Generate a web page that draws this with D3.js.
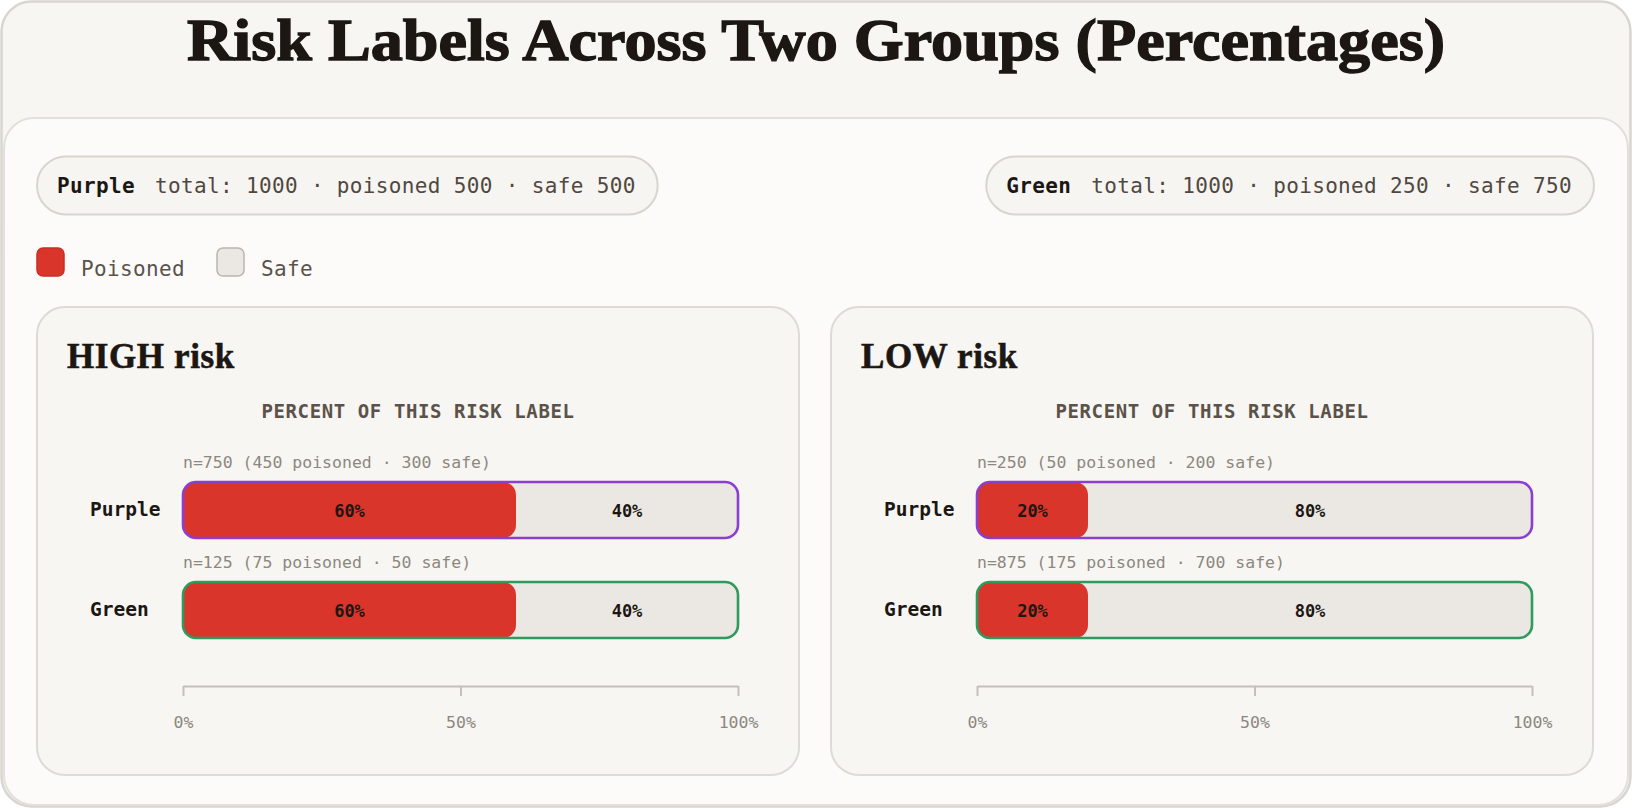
<!DOCTYPE html>
<html>
<head>
<meta charset="utf-8">
<script src="https://cdn.jsdelivr.net/npm/d3@7"></script>
<style>
  body { margin: 0; background: #ffffff; }
  svg { display: block; }
</style>
</head>
<body>
<div id="viz"></div>
<script>
// data
const groups = ['Purple', 'Green']
const riskLabels = ['HIGH risk', 'LOW risk']
const highPoisoned = [450, 75]
const highSafe = [300, 50]
const lowPoisoned = [50, 175]
const lowSafe = [200, 700]
const groupTotal = [1000, 1000]
const groupPoisoned = [500, 250]
const groupSafe = [500, 750]
const legendLabels = ['Poisoned', 'Safe']
const tickValues = [0, 50, 100]

const facetCounts = [
    { poisoned: highPoisoned, safe: highSafe },
    { poisoned: lowPoisoned, safe: lowSafe }
]

const width = 1632,
    height = 808

const mono = '"DejaVu Sans Mono", monospace'
const serif = '"Liberation Serif", serif'
const ink = '#1c1713'
const colors = {
    poisoned: '#d9352b',
    safe: '#ebe7e2',
    Purple: '#8a3fd1',
    Green: '#2e9a5c'
}

const svg = d3.select('#viz').append('svg')
    .attr('width', width)
    .attr('height', height)

// outer card + title
svg.append('rect')
    .attr('x', 1.5).attr('y', 1.5)
    .attr('width', width - 3).attr('height', height - 3)
    .attr('rx', 30)
    .attr('fill', '#f7f6f2')
    .attr('stroke', '#d9d6d0')
    .attr('stroke-width', 2.5)

svg.append('text')
    .attr('x', 816)
    .attr('y', 60)
    .attr('text-anchor', 'middle')
    .attr('textLength', 1258)
    .attr('lengthAdjust', 'spacingAndGlyphs')
    .style('font-family', serif)
    .style('font-weight', 700)
    .style('font-size', '60px')
    .attr('fill', ink)
    .attr('stroke', ink)
    .attr('stroke-width', 1.4)
    .text('Risk Labels Across Two Groups (Percentages)')

// inner panel
svg.append('rect')
    .attr('x', 4).attr('y', 118)
    .attr('width', width - 8).attr('height', height - 121)
    .attr('rx', 30)
    .attr('fill', '#fcfbf9')
    .attr('stroke', '#e3e0db')
    .attr('stroke-width', 2)

// group total pills
const pillData = groups.map((g, i) => ({
    name: g,
    detail: `total: ${groupTotal[i]} · poisoned ${groupPoisoned[i]} · safe ${groupSafe[i]}`
}))

pillData.forEach((d, i) => {
    const pill = svg.append('g')
    const rect = pill.append('rect')
    const txt = pill.append('text')
        .attr('x', 0)
        .attr('y', 193)
        .style('font-family', mono)
        .style('font-size', '21px')
        .style('letter-spacing', '0.35px')
    txt.append('tspan')
        .style('font-weight', 700)
        .attr('fill', ink)
        .text(d.name)
    txt.append('tspan')
        .attr('dx', 20)
        .attr('fill', '#50483f')
        .text(d.detail)
    const tw = txt.node().getBBox().width
    const pw = tw + 42
    const px = i === 0 ? 37 : 1594 - pw
    rect.attr('x', px).attr('y', 156.5)
        .attr('width', pw).attr('height', 58)
        .attr('rx', 29)
        .attr('fill', '#f6f5f1')
        .attr('stroke', '#d8d5cf')
        .attr('stroke-width', 2)
    txt.attr('x', px + 20)
})

// legend
const legend = svg.append('g')
const legendX = [37, 217]
legendLabels.forEach((lab, i) => {
    legend.append('rect')
        .attr('x', legendX[i]).attr('y', 248)
        .attr('width', 27).attr('height', 28)
        .attr('rx', 6)
        .attr('fill', i === 0 ? colors.poisoned : colors.safe)
        .attr('stroke', i === 0 ? '#c92e25' : '#b9b5ae')
        .attr('stroke-width', 1.5)
    legend.append('text')
        .attr('x', legendX[i] + 44)
        .attr('y', 276)
        .style('font-family', mono)
        .style('font-size', '21px')
        .style('letter-spacing', '0.35px')
        .attr('fill', '#5a534c')
        .text(lab)
})

// facets
const defs = svg.append('defs')

riskLabels.forEach((risk, fi) => {
    const x0 = 37 + fi * 794
    const g = svg.append('g')

    g.append('rect')
        .attr('x', x0).attr('y', 307)
        .attr('width', 762).attr('height', 468)
        .attr('rx', 28)
        .attr('fill', '#f7f6f3')
        .attr('stroke', '#dedbd6')
        .attr('stroke-width', 2)

    g.append('text')
        .attr('x', x0 + 30)
        .attr('y', 368)
        .style('font-family', serif)
        .style('font-weight', 700)
        .style('font-size', '35px')
        .style('letter-spacing', '0.6px')
        .attr('fill', ink)
        .attr('stroke', ink)
        .attr('stroke-width', 0.6)
        .text(risk)

    g.append('text')
        .attr('x', x0 + 381)
        .attr('y', 418)
        .attr('text-anchor', 'middle')
        .style('font-family', mono)
        .style('font-weight', 700)
        .style('font-size', '19px')
        .style('letter-spacing', '0.6px')
        .attr('fill', '#5b5249')
        .text('PERCENT OF THIS RISK LABEL')

    const x = d3.scaleLinear()
        .domain([0, 100])
        .range([x0 + 146, x0 + 701])

    const y = d3.scaleBand()
        .domain(groups)
        .range([482, 638])
        .paddingInner(0.44)

    const counts = facetCounts[fi]
    const rows = groups.map((grp, j) => {
        const p = counts.poisoned[j],
            s = counts.safe[j],
            n = p + s
        return { group: grp, p, s, n, pct: p / n * 100 }
    })

    const bh = y.bandwidth()
    const rr = 13

    rows.forEach((r, j) => {
        const by = y(r.group)
        const cid = `clip-${fi}-${j}`
        defs.append('clipPath').attr('id', cid)
            .append('rect')
            .attr('x', x(0)).attr('y', by)
            .attr('width', x(100) - x(0)).attr('height', bh)
            .attr('rx', rr)

        // n label
        g.append('text')
            .attr('x', x(0))
            .attr('y', by - 14)
            .style('font-family', mono)
            .style('font-size', '16.5px')
            .attr('fill', '#8d877f')
            .text(`n=${r.n} (${r.p} poisoned · ${r.s} safe)`)

        // row label
        g.append('text')
            .attr('x', x0 + 53)
            .attr('y', by + bh / 2 + 6)
            .style('font-family', mono)
            .style('font-weight', 700)
            .style('font-size', '19.5px')
            .attr('fill', ink)
            .text(r.group)

        const bar = g.append('g').attr('clip-path', `url(#${cid})`)
        bar.append('rect')
            .attr('x', x(0)).attr('y', by)
            .attr('width', x(100) - x(0)).attr('height', bh)
            .attr('fill', colors.safe)
        bar.append('rect')
            .attr('x', x(0)).attr('y', by)
            .attr('width', x(r.pct) - x(0)).attr('height', bh)
            .attr('rx', rr)
            .attr('fill', colors.poisoned)

        g.append('rect')
            .attr('x', x(0)).attr('y', by)
            .attr('width', x(100) - x(0)).attr('height', bh)
            .attr('rx', rr)
            .attr('fill', 'none')
            .attr('stroke', colors[r.group])
            .attr('stroke-width', 2.6)

        const segs = [[0, r.pct], [r.pct, 100]]
        segs.forEach(sg => {
            g.append('text')
                .attr('x', x((sg[0] + sg[1]) / 2))
                .attr('y', by + bh / 2 + 7)
                .attr('text-anchor', 'middle')
                .style('font-family', mono)
                .style('font-weight', 700)
                .style('font-size', '17px')
                .attr('fill', ink)
                .text(d3.format('.0f')(sg[1] - sg[0]) + '%')
        })
    })

    const xAxis = d3.axisBottom(x)
        .tickValues(tickValues)
        .tickFormat(d => d + '%')
        .tickSize(10)
        .tickSizeOuter(0)
        .tickPadding(20)

    const xAxisG = g.append('g')
        .attr('transform', `translate(0, 686)`)
        .call(xAxis)
    xAxisG.select('.domain')
        .attr('stroke', '#c4c0ba')
        .attr('stroke-width', 2)
    xAxisG.selectAll('.tick line')
        .attr('stroke', '#c4c0ba')
        .attr('stroke-width', 2)
    xAxisG.selectAll('.tick text')
        .style('font-family', mono)
        .style('font-size', '16.5px')
        .attr('fill', '#8d877f')
})
</script>
</body>
</html>
